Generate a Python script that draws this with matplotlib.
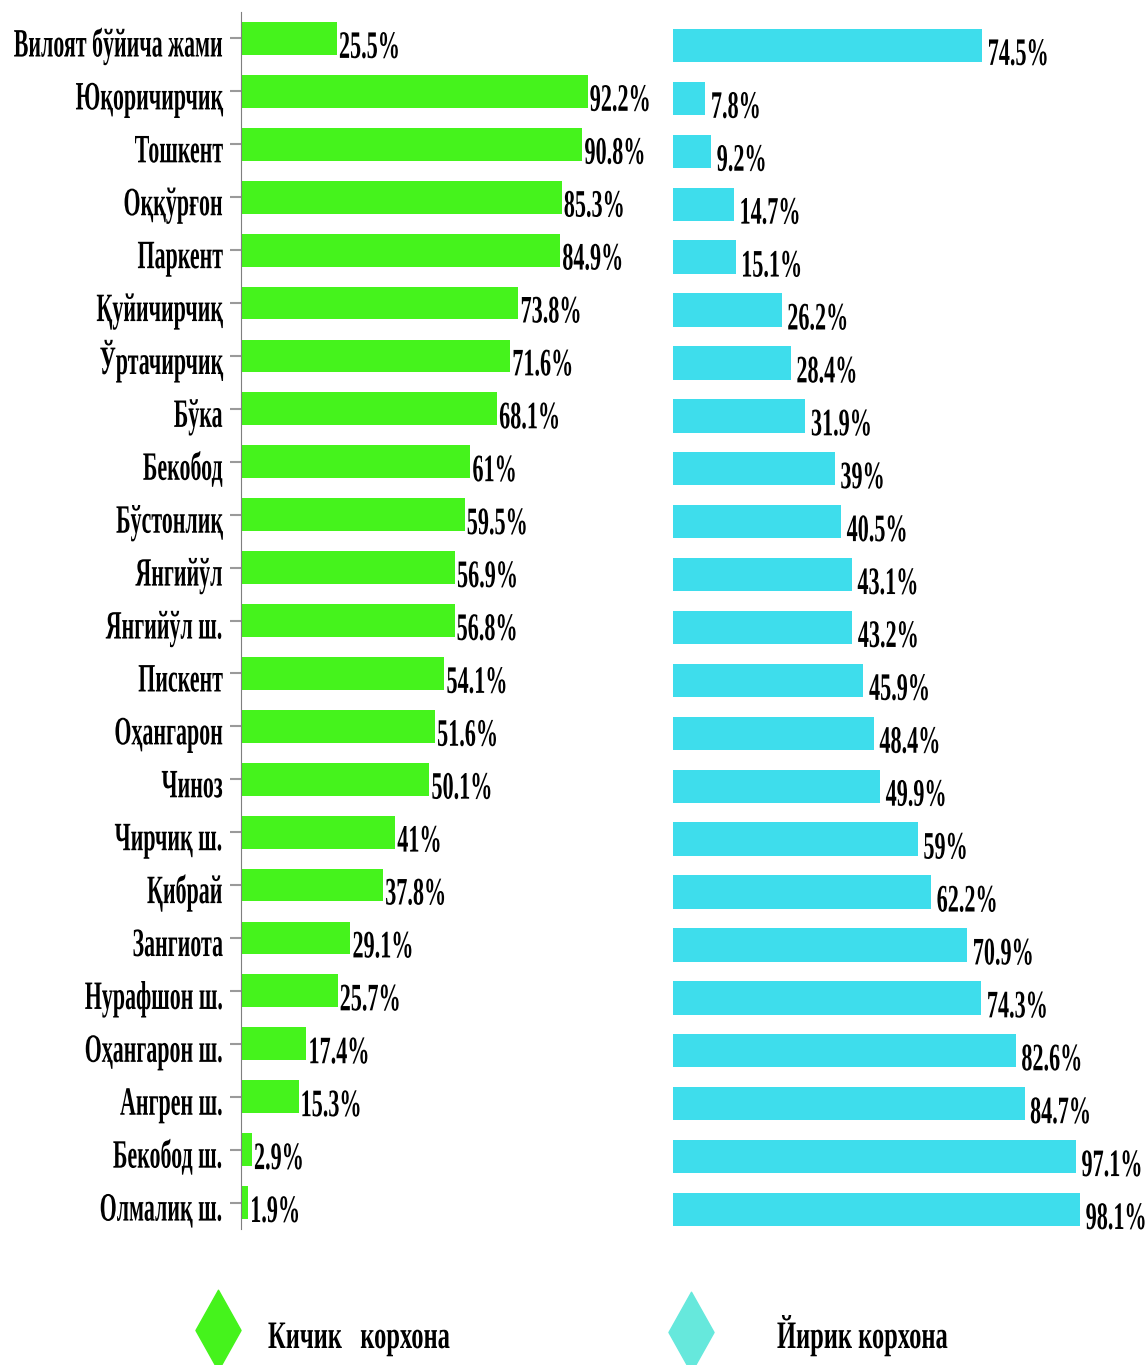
import matplotlib
matplotlib.use("Agg")
import matplotlib.pyplot as plt
from matplotlib.patheffects import AbstractPathEffect
from matplotlib.transforms import Affine2D, Bbox
from matplotlib.path import Path
from matplotlib.text import Text
import numpy as np

# --- data ---
districts = ["Вилоят бўйича жами", "Юқоричирчиқ", "Тошкент", "Оққўрғон", "Паркент",
             "Қуйичирчиқ", "Ўртачирчиқ", "Бўка", "Бекобод", "Бўстонлиқ", "Янгийўл",
             "Янгийўл ш.", "Пискент", "Оҳангарон", "Чиноз", "Чирчиқ ш.", "Қибрай",
             "Зангиота", "Нурафшон ш.", "Оҳангарон ш.", "Ангрен ш.", "Бекобод ш.",
             "Олмалиқ ш."]
small = [25.5, 92.2, 90.8, 85.3, 84.9, 73.8, 71.6, 68.1, 61, 59.5, 56.9, 56.8,
         54.1, 51.6, 50.1, 41, 37.8, 29.1, 25.7, 17.4, 15.3, 2.9, 1.9]
large = [74.5, 7.8, 9.2, 14.7, 15.1, 26.2, 28.4, 31.9, 39, 40.5, 43.1, 43.2,
         45.9, 48.4, 49.9, 59, 62.2, 70.9, 74.3, 82.6, 84.7, 97.1, 98.1]
legend_names = ["Кичик   корхона", "Йирик корхона"]

GREEN = "#45f31c"
CYAN = "#3eddec"
CYAN_LEG = "#66e8dc"
FONT = ["Liberation Serif", "DejaVu Serif"]


class Squeeze(AbstractPathEffect):
    # narrow the glyphs horizontally (the source uses a condensed face)
    def __init__(self, sx, anchor="left"):
        super().__init__()
        self.sx = sx
        self.anchor = anchor

    def draw_path(self, renderer, gc, tpath, affine, rgbFace=None):
        x0 = tpath.get_extents().x1 if self.anchor == "right" else 0
        t = Affine2D().translate(-x0, 0).scale(self.sx, 1).translate(x0, 0) + affine
        renderer.draw_path(gc, tpath, t, rgbFace)


# make the reported extent of a squeezed text match what is drawn
_text_extent = Text.get_window_extent

def _squeezed_extent(self, renderer=None, dpi=None):
    bb = _text_extent(self, renderer, dpi)
    sq = getattr(self, "_squeeze", None)
    if sq is None:
        return bb
    sx, anchor = sq
    w = bb.width * sx
    if anchor == "right":
        return Bbox([[bb.x1 - w, bb.y0], [bb.x1, bb.y1]])
    return Bbox([[bb.x0, bb.y0], [bb.x0 + w, bb.y1]])

Text.get_window_extent = _squeezed_extent


def squeeze(t, sx, anchor="left"):
    t.set_path_effects([Squeeze(sx, anchor)])
    t._squeeze = (sx, anchor)
    return t


W, H = 1148, 1365
fig = plt.figure(figsize=(W / 100, H / 100), dpi=100)

def px_axes(left, top, width, height):
    return fig.add_axes([left / W, 1 - (top + height) / H, width / W, height / H])

n = len(districts)
y = np.arange(n)

# left panel: small enterprises
ax1 = px_axes(241, 12, 376, 1217)
ax1.barh(y, small, height=0.62, color=GREEN)
ax1.set_xlim(0, 100)
ax1.set_ylim(n - 0.5, -0.5)
ax1.set_xticks([])
ax1.set_yticks(y)
ax1.set_yticklabels([])
ax1.tick_params(axis="y", length=8, width=1.5, color="#9a9a9a")
for s in ["top", "right", "bottom"]:
    ax1.spines[s].set_visible(False)
ax1.spines["left"].set_color("#7f7f7f")
ax1.patch.set_alpha(0)

for i, name in enumerate(districts):
    t = ax1.annotate(name, (0, i), xytext=(-13, -13), textcoords="offset points",
                     ha="right", va="baseline", fontsize=29, fontweight="bold",
                     family=FONT)
    squeeze(t, 0.545, "right")
for i, v in enumerate(small):
    t = ax1.annotate(f"{v:g}%", (v, i), xytext=(1.5, -14), textcoords="offset points",
                     ha="left", va="baseline", fontsize=28, fontweight="bold",
                     family=FONT, annotation_clip=False)
    squeeze(t, 0.57)

# right panel: large enterprises
ax2 = px_axes(673, 19, 415, 1217)
ax2.barh(y, large, height=0.63, color=CYAN)
ax2.set_xlim(0, 100)
ax2.set_ylim(n - 0.5, -0.5)
ax2.axis("off")
for i, v in enumerate(large):
    t = ax2.annotate(f"{v:g}%", (v, i), xytext=(4, -14), textcoords="offset points",
                     ha="left", va="baseline", fontsize=28, fontweight="bold",
                     family=FONT, annotation_clip=False)
    squeeze(t, 0.57)

# legend
axl = px_axes(0, 1255, W, H - 1255)
axl.set_xlim(0, W)
axl.set_ylim(H, 1255)
axl.axis("off")
diamond = Path([(0, 1), (0.56, 0), (0, -1), (-0.56, 0), (0, 1)],
               [Path.MOVETO, Path.LINETO, Path.LINETO, Path.LINETO, Path.CLOSEPOLY])
axl.plot([218], [1330], marker=diamond, markersize=58, color=GREEN, clip_on=False)
axl.plot([691], [1332], marker=diamond, markersize=58, color=CYAN_LEG, clip_on=False)
t = axl.text(268, 1348, legend_names[0], ha="left", va="baseline", fontsize=28,
             fontweight="bold", family=FONT)
squeeze(t, 0.63)
t = axl.text(777, 1348, legend_names[1], ha="left", va="baseline", fontsize=28,
             fontweight="bold", family=FONT)
squeeze(t, 0.63)

fig.savefig("out.png", dpi=100)
